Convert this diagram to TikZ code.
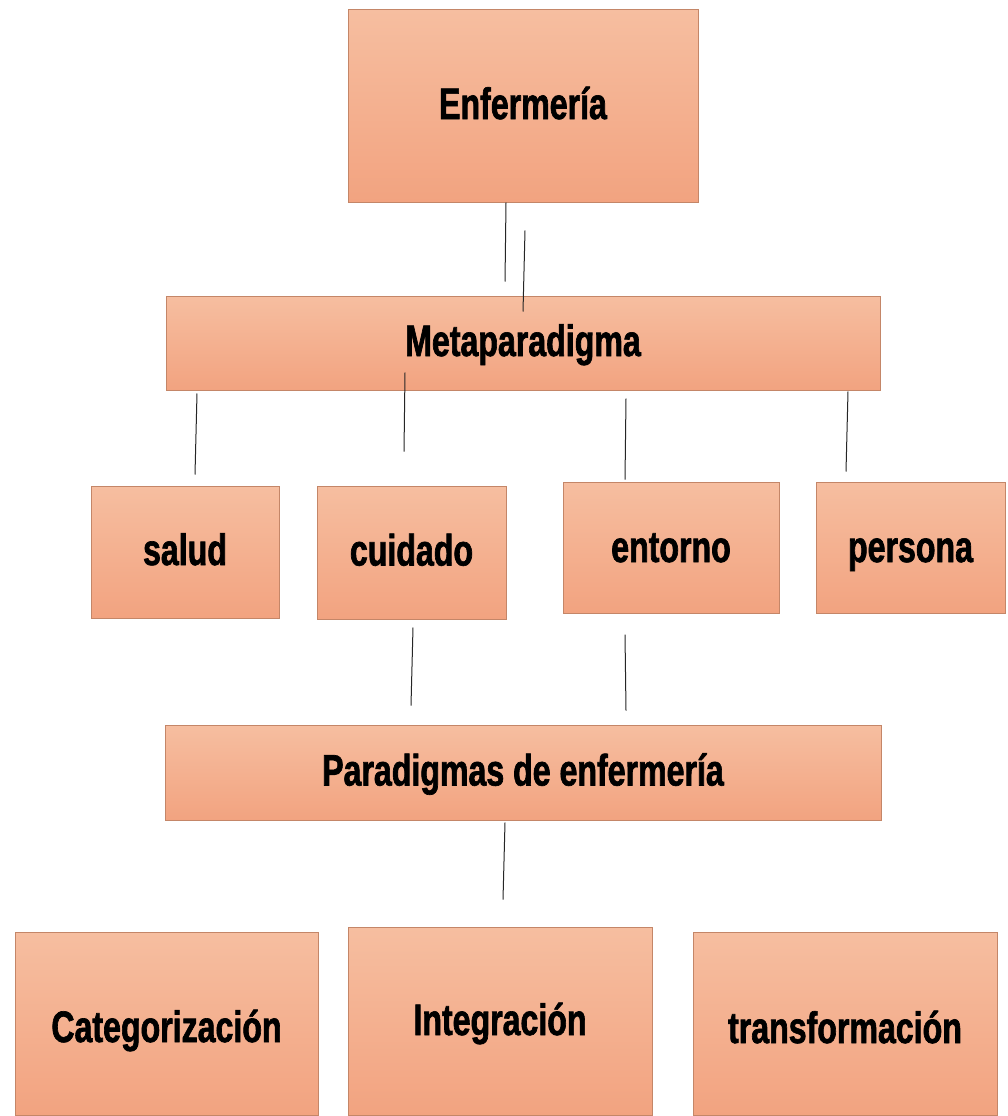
\documentclass[tikz,border=0pt]{standalone}
\usepackage{fontspec}
\newfontfamily\cajafont{Liberation Sans Bold}[FakeStretch=0.73, FakeBold=1.5]
\usetikzlibrary{positioning,calc}
\definecolor{salmonA}{RGB}{246,190,160}
\definecolor{salmonB}{RGB}{242,163,128}
\definecolor{bordeC}{RGB}{196,134,104}

\begin{document}
\begin{tikzpicture}[
    x=1pt, y=-1pt, % pixel-like coordinates, y going down
    line width=1pt, % thin connector lines
    caja/.style={draw=bordeC, line width=1pt, top color=salmonA, bottom color=salmonB,
        inner sep=0pt, text height=32pt, text depth=6pt,
        font=\cajafont\fontsize{44}{48}\selectfont}
]
\clip (0,0) rectangle (1008,1116);
\fill[white] (0,0) rectangle (1008,1116);

% Nodes
\node[caja, minimum width=350, minimum height=192] (enf) at (523,106) {Enfermería};
\node[caja, minimum width=714, minimum height=94] (meta) at (523,343) {Metaparadigma};

\node[caja, minimum width=188, minimum height=132] (salud) at (185,552) {salud};
\node[caja, minimum width=189, minimum height=133] (cuid) at (411.5,552.5) {cuidado};
\node[caja, minimum width=216, minimum height=131, text depth=3pt] (ento) at (671,547.5) {entorno};
\node[caja, minimum width=189, minimum height=131, text depth=3pt] (pers) at (910.5,547.5) {persona};

\node[caja, minimum width=716, minimum height=95] (para) at (523,772.5) {Paradigmas de enfermería};

\node[caja, minimum width=303, minimum height=183, text height=42pt, text depth=5pt] (cate) at (166.5,1023.5) {Categorización};
\node[caja, minimum width=304, minimum height=188, text depth=4pt] (integ) at (500,1021) {Integración};
\node[caja, minimum width=304, minimum height=183, text height=44pt, text depth=5pt] (trans) at (845,1023.5) {transformación};

% Lines (they float between the boxes)
\draw[black!85] ($(enf.south)+(-17,0)$) -- ($(meta.north)+(-18,-14)$);
\draw[black!85] ($(enf.south)+(2,28)$) -- ($(meta.north)+(0,16)$);

\draw[black!85] ($(meta.south)+(-326,3)$) -- ($(salud.north)+(10,-11)$);
\draw[black!85] ($(meta.south)+(-118,-18)$) -- ($(cuid.north)+(-7.5,-34)$);
\draw[black!85] ($(meta.south)+(103,8)$) -- ($(ento.north)+(-46,-2)$);
\draw[black!85] ($(meta.south)+(325,1)$) -- ($(pers.north)+(-64.5,-10)$);

\draw[black!85] ($(cuid.south)+(1.5,8)$) -- ($(para.north)+(-112,-19)$);
\draw[black!85] ($(ento.south)+(-46,21)$) -- ($(para.north)+(103,-14)$);

\draw[black!85] ($(para.south)+(-18,2)$) -- ($(integ.north)+(3,-27)$);

\end{tikzpicture}
\end{document}
